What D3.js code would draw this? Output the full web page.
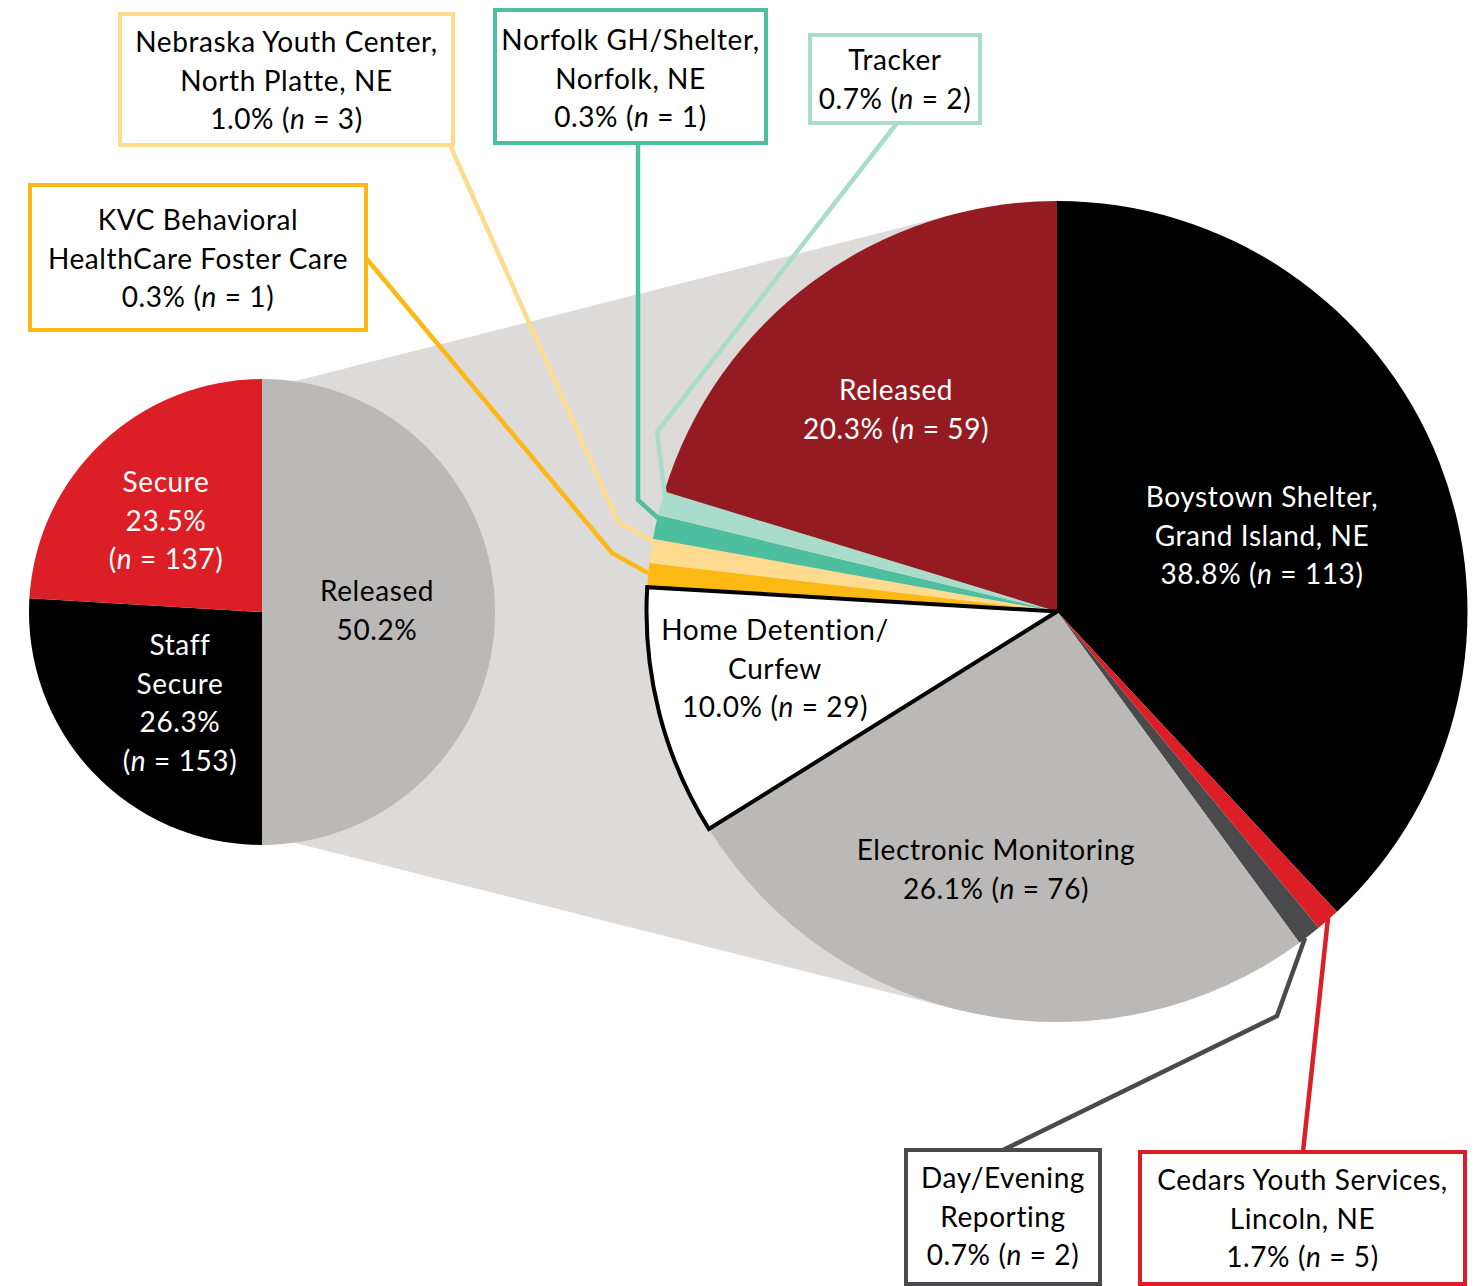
<!doctype html>
<html>
<head>
<meta charset="UTF-8">
<title>Placement pie</title>
<script src="https://cdn.jsdelivr.net/npm/d3@7"></script>
<style>
  body { margin: 0; background: #fff; }
  svg text { font-family: Lato, "Open Sans", sans-serif; font-size: 28px; letter-spacing: 0.6px; }
</style>
</head>
<body>
<svg id="chart" width="1483" height="1286"></svg>
<script>
// left pie: all youth
var leftNames = [["Released"], ["Staff", "Secure"], ["Secure"]];
var leftPct = [50.2, 26.3, 23.5];
var leftN = [null, 153, 137];
// slice sizes as drawn in the picture (degrees)
var leftDrawn = [180, 93.4, 86.6];
var leftColors = ["#bab9b7", "#000000", "#dc1f26"];

// right pie: breakdown of released
var rightNames = [
  ["Boystown Shelter,", "Grand Island, NE"],
  ["Cedars Youth Services,", "Lincoln, NE"],
  ["Day/Evening", "Reporting"],
  ["Electronic Monitoring"],
  ["Home Detention/", "Curfew"],
  ["KVC Behavioral", "HealthCare Foster Care"],
  ["Nebraska Youth Center,", "North Platte, NE"],
  ["Norfolk GH/Shelter,", "Norfolk, NE"],
  ["Tracker"],
  ["Released"]
];
var rightPct = [38.8, 1.7, 0.7, 26.1, 10.0, 0.3, 1.0, 0.3, 0.7, 20.3];
var rightN = [113, 5, 2, 76, 29, 1, 3, 1, 2, 59];
// slice sizes as drawn in the picture (degrees); small ones are widened
var rightDrawn = [137, 3.4, 3.4, 94.2, 35.4, 3.4, 3.4, 3.4, 3.4, 73];
var rightColors = ["#000000", "#dc1f26", "#4a4a4c", "#bab9b7", "#ffffff",
                   "#fdb913", "#fedb8e", "#4dbf9f", "#aadccb", "#951b22"];

var svg = d3.select("#chart");
var L = {cx: 262, cy: 612, r: 233};
var R = {cx: 1057, cy: 611.5, r: 410.5};
var deg = Math.PI / 180;

// ---- grey band joining the two pies (tangents to the big pie)
function tangent(p, c, sign) {
  var dx = c.cx - p[0], dy = c.cy - p[1];
  var d = Math.sqrt(dx * dx + dy * dy);
  var a = Math.asin(c.r / d), phi = Math.atan2(dy, dx) + sign * a;
  var len = Math.sqrt(d * d - c.r * c.r);
  return [p[0] + len * Math.cos(phi), p[1] + len * Math.sin(phi)];
}
function onCircle(c, a) {
  return [c.cx + c.r * Math.sin(a * deg), c.cy - c.r * Math.cos(a * deg)];
}
var pTop = onCircle(L, 8), pBot = onCircle(L, 172);
var band = [[L.cx, L.cy], pTop, tangent(pTop, R, -1), [R.cx, R.cy],
            tangent(pBot, R, 1), pBot];
svg.append("path")
  .attr("d", d3.line()(band) + "Z")
  .attr("fill", "#dcdbda");

// ---- pies
function drawPie(values, colors, c) {
  var pie = d3.pie().sort(null).value(function(d) { return d; });
  var arc = d3.arc().innerRadius(0).outerRadius(c.r);
  var g = svg.append("g").attr("transform", "translate(" + c.cx + "," + c.cy + ")");
  g.selectAll("path")
    .data(pie(values))
    .enter().append("path")
    .attr("d", arc)
    .attr("fill", function(d, i) { return colors[i]; });
  return {g: g, arcs: pie(values), arc: arc};
}
drawPie(leftDrawn, leftColors, L);
var right = drawPie(rightDrawn, rightColors, R);

// outline for the white home detention slice
right.g.append("path")
  .attr("d", right.arc(right.arcs[4]))
  .attr("fill", "none")
  .attr("stroke", "#000")
  .attr("stroke-width", 4)
  .attr("stroke-linejoin", "miter");

// ---- text helpers
function statLine(sel, pct, n, parens) {
  if (pct != null) sel.append("tspan").text(pct.toFixed(1) + "%" + (n != null && !parens ? " (" : ""));
  if (n == null) return;
  if (parens) sel.append("tspan").text("(");
  sel.append("tspan").style("font-style", "italic").text("n");
  sel.append("tspan").text(" = " + n + ")");
}

function block(x, y0, lines, pct, n, color, opts) {
  opts = opts || {};
  var step = opts.step || 38.5;
  var t = svg.append("g").attr("fill", color).attr("text-anchor", "middle");
  var y = y0;
  lines.forEach(function(s) {
    t.append("text").attr("x", x).attr("y", y).text(s);
    y += step;
  });
  if (opts.split) {
    // percent and n on separate lines
    t.append("text").attr("x", x).attr("y", y).text(pct.toFixed(1) + "%");
    y += step;
    if (n != null) statLine(t.append("text").attr("x", x).attr("y", y), null, n, true);
  } else if (n != null) {
    statLine(t.append("text").attr("x", x).attr("y", y), pct, n, false);
  } else {
    t.append("text").attr("x", x).attr("y", y).text(pct.toFixed(1) + "%");
  }
}

// left pie labels
block(377, 601, leftNames[0], leftPct[0], leftN[0], "#000");
block(180, 655, leftNames[1], leftPct[1], leftN[1], "#fff", {split: true});
block(166, 492, leftNames[2], leftPct[2], leftN[2], "#fff", {split: true});

// labels inside the right pie
block(1262, 507, rightNames[0], rightPct[0], rightN[0], "#fff");
block(996, 860, rightNames[3], rightPct[3], rightN[3], "#000");
block(775, 640, rightNames[4], rightPct[4], rightN[4], "#000");
block(896, 400, rightNames[9], rightPct[9], rightN[9], "#fff");

// ---- callout boxes with leader lines
var callouts = [
  {i: 1, box: [1140, 1152, 1465, 1284], y0: 1190, line: [[1303, 1152], [1328, 918]]},
  {i: 2, box: [906, 1150, 1100, 1284], y0: 1188, line: [[1003, 1150], [1277, 1016], [1305, 938]]},
  {i: 5, box: [30, 185, 366, 330], y0: 230, line: [[366, 258], [612, 553], [648, 573]]},
  {i: 6, box: [120, 14, 453, 145], y0: 52, line: [[450, 145], [618, 522], [652, 541]]},
  {i: 7, box: [495, 10, 766, 143], y0: 50, line: [[638, 143], [638, 500], [658, 518]]},
  {i: 8, box: [810, 35, 980, 123], y0: 70, line: [[897, 123], [657, 432], [665, 497]]}
];

callouts.forEach(function(c) {
  var col = rightColors[c.i];
  svg.append("path")
    .attr("d", d3.line()(c.line))
    .attr("fill", "none")
    .attr("stroke", col)
    .attr("stroke-width", 4.5)
    .attr("stroke-linejoin", "miter");
  svg.append("rect")
    .attr("x", c.box[0]).attr("y", c.box[1])
    .attr("width", c.box[2] - c.box[0]).attr("height", c.box[3] - c.box[1])
    .attr("fill", "#fff")
    .attr("stroke", col)
    .attr("stroke-width", 4);
  block((c.box[0] + c.box[2]) / 2, c.y0, rightNames[c.i], rightPct[c.i], rightN[c.i], "#000");
});
</script>
</body>
</html>
